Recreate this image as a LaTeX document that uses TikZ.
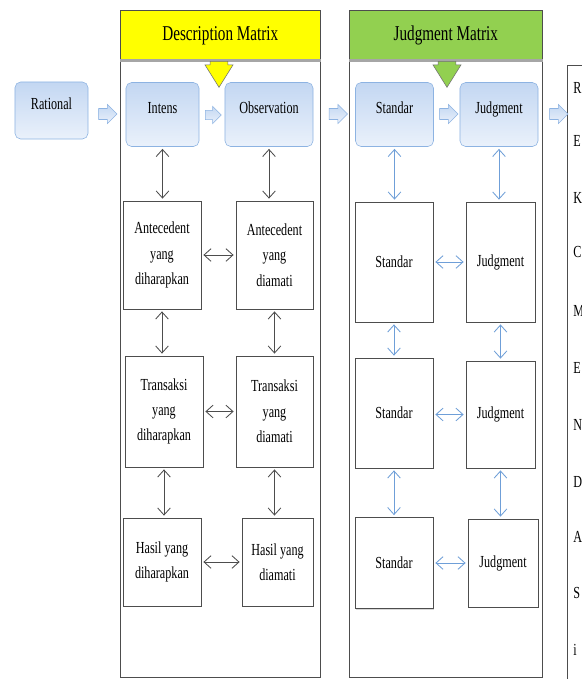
\documentclass[tikz,border=0pt]{standalone}
\usepackage{fontspec}
\setmainfont{Liberation Serif}[FakeStretch=0.72]
\usepackage{tikz}
\usetikzlibrary{arrows.meta,shapes.arrows,shadows}
\definecolor{boxblue}{HTML}{C3D7F2}
\definecolor{boxpale}{HTML}{EAF1FB}
\definecolor{edgeblue}{HTML}{8DB3E2}
\definecolor{linkblue}{HTML}{6F9FD8}
\definecolor{hdyellow}{HTML}{FFFF00}
\definecolor{hdgreen}{HTML}{92D050}
\definecolor{frame}{HTML}{4D4D4D}

\begin{document}
\begin{tikzpicture}[x=0.025cm,y=-0.025cm,panel/.style={draw=frame,fill=white,minimum width=5cm,minimum height=16.675cm,anchor=north west,inner sep=0pt},head/.style={draw=frame,minimum width=5cm,minimum height=1.25cm,anchor=north west,inner sep=0pt,font=\fontsize{15}{17}\selectfont},headline/.style={draw=gray!70,line width=2pt},pointer/.style={single arrow,draw=frame!80,rotate=-90,anchor=tail,minimum width=0.7cm,minimum height=0.65cm,single arrow head extend=0.12cm,single arrow tip angle=64,inner xsep=0pt,inner ysep=0.2cm},stage/.style={draw=edgeblue,rounded corners=4pt,top color=boxblue,bottom color=boxpale,minimum height=1.6cm,text depth=0.35cm,font=\fontsize{12}{14}\selectfont},flow/.style={single arrow,draw=edgeblue,top color=boxblue,bottom color=boxpale,minimum width=0.45cm,minimum height=0.46cm,single arrow head extend=0.1cm,inner xsep=0pt,inner ysep=0.13cm},cell/.style={draw=frame,fill=white,align=center,minimum width=1.95cm,font=\fontsize{12}{18}\selectfont,drop shadow={shadow xshift=0.6pt,shadow yshift=-0.8pt,opacity=0.3}},sidebar/.style={draw=frame,fill=white,anchor=north west,minimum width=2cm,minimum height=16cm},cut/.style={anchor=west,inner sep=0pt,font=\fontsize{12}{14}\selectfont},link/.style={{Straight Barb[length=5pt,width=9pt]}-{Straight Barb[length=5pt,width=9pt]},draw=frame,line width=0.6pt,shorten <=1.5pt,shorten >=1.5pt},bluelink/.style={link,draw=linkblue}]
\clip (0,0) rectangle (582,679);
\node[panel] (descpanel) at (120,10) {};
\node[panel,minimum width=4.825cm] (judgpanel) at (349,10) {};
\node[sidebar] (summary) at (567,65) {};
\node[head,fill=hdyellow] (deschead) at (120,10) {Description Matrix};
\node[head,fill=hdgreen,minimum width=4.825cm] (judghead) at (349,10) {Judgment Matrix};
\draw[headline] (deschead.south west) -- (deschead.south east);
\draw[headline] (judghead.south west) -- (judghead.south east);
\node[pointer,fill=hdyellow] (descptr) at (219,61) {};
\node[pointer,fill=hdgreen] (judgptr) at (447,61) {};
\node[stage,minimum width=1.825cm,minimum height=1.425cm] (rational) at (51.5,110.5) {Rational};
\node[stage,minimum width=1.825cm] (intens) at (162.5,114.5) {Intens};
\node[stage,minimum width=2.2cm] (observation) at (269,114.5) {Observation};
\node[stage,minimum width=1.95cm] (standartop) at (394.5,114.5) {Standar};
\node[stage,minimum width=1.95cm] (judgmenttop) at (499,114.5) {Judgment};
\node[flow] (f1) at (105,114) {};
\node[flow,minimum width=0.375cm,minimum height=0.4cm,inner ysep=0.11cm] (f2) at (211,115) {};
\node[flow] (f3) at (335.5,114) {};
\node[flow] (f4) at (446,114) {};
\node[flow] (f5) at (556,114) {};
\node[cell,minimum height=2.7cm] (antharap) at (162,255) {Antecedent\\yang\\diharapkan};
\node[cell,minimum width=1.925cm,minimum height=2.7cm] (antamati) at (274.5,255) {Antecedent\\yang\\diamati};
\node[cell,minimum height=2.775cm] (transharap) at (164,411.5) {Transaksi\\yang\\diharapkan};
\node[cell,minimum width=1.925cm,minimum height=2.775cm] (transamati) at (274.5,411.5) {Transaksi\\yang\\diamati};
\node[cell,minimum height=2.2cm] (hasilharap) at (162,562) {Hasil yang\\diharapkan};
\node[cell,minimum width=1.775cm,minimum height=2.2cm] (hasilamati) at (277.5,562) {Hasil yang\\diamati};
\node[cell,minimum height=3cm] (standar1) at (394,262) {Standar};
\node[cell,minimum width=1.725cm,minimum height=3cm] (judgment1) at (500.5,262) {Judgment};
\node[cell,minimum height=2.75cm] (standar2) at (394,413) {Standar};
\node[cell,minimum width=1.725cm,minimum height=2.675cm] (judgment2) at (500.5,414.5) {Judgment};
\node[cell,minimum height=2.275cm] (standar3) at (394,563) {Standar};
\node[cell,minimum width=1.75cm,minimum height=2.2cm] (judgment3) at (503,563) {Judgment};
\node[cut] (sR) at (573,88) {R};
\node[cut] (sE) at (573,141) {E};
\node[cut] (sK) at (573,198) {K};
\node[cut] (sC) at (573,252) {C};
\node[cut] (sM) at (573,311) {M};
\node[cut] (sE2) at (573,368) {E};
\node[cut] (sN) at (573,425) {N};
\node[cut] (sD) at (573,482) {D};
\node[cut] (sA) at (573,537) {A};
\node[cut] (sS) at (573,593) {S};
\node[cut] (si) at (573,650) {i};
\draw[link] (intens.south) -- (intens.south |- antharap.north);
\draw[link] (observation.south) -- (observation.south |- antamati.north);
\draw[link] (antharap.south) -- (antharap.south |- transharap.north);
\draw[link] (antamati.south) -- (antamati.south |- transamati.north);
\draw[link] (transharap.south) -- (transharap.south |- hasilharap.north);
\draw[link] (transamati.south) -- (transamati.south |- hasilamati.north);
\draw[link] (antharap) -- (antamati);
\draw[link] (transharap) -- (transamati);
\draw[link] (hasilharap) -- (hasilamati);
\draw[bluelink] (standartop.south) -- (standartop.south |- standar1.north);
\draw[bluelink] (judgmenttop.south) -- (judgmenttop.south |- judgment1.north);
\draw[bluelink] (standar1.south) -- (standar1.south |- standar2.north);
\draw[bluelink] (judgment1.south) -- (judgment1.south |- judgment2.north);
\draw[bluelink] (standar2.south) -- (standar2.south |- standar3.north);
\draw[bluelink] (judgment2.south) -- (judgment2.south |- judgment3.north);
\draw[bluelink] (standar1) -- (judgment1);
\draw[bluelink] (standar2.east |- judgment2) -- (judgment2);
\draw[bluelink] (standar3) -- (judgment3);
\end{tikzpicture}
\end{document}
